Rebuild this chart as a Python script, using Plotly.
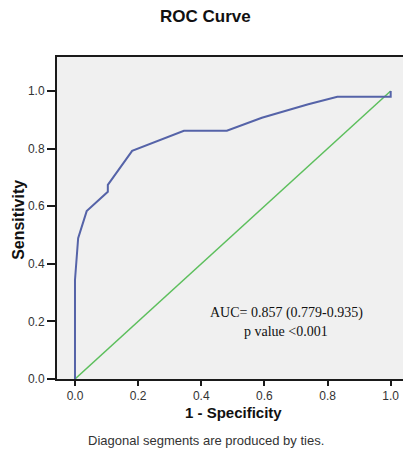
import plotly.graph_objects as go

# ROC curve points (1 - specificity, sensitivity)
fpr = [0.0, 0.0, 0.010, 0.037, 0.104, 0.104, 0.181, 0.280, 0.345, 0.481, 0.592, 0.739, 0.831, 1.0, 1.0]
tpr = [0.0, 0.344, 0.489, 0.583, 0.650, 0.674, 0.792, 0.835, 0.862, 0.862, 0.907, 0.954, 0.980, 0.980, 1.0]

ref_x = [0.0, 1.0]
ref_y = [0.0, 1.0]

tick_vals = [0.0, 0.2, 0.4, 0.6, 0.8, 1.0]
tick_text = ["0.0", "0.2", "0.4", "0.6", "0.8", "1.0"]

auc_text = "AUC= 0.857 (0.779-0.935)"
p_text = "p value <0.001"

fig = go.Figure()
fig.add_trace(go.Scatter(x=ref_x, y=ref_y, mode="lines",
                         line=dict(color="#5cbf5c", width=1.5), showlegend=False))
fig.add_trace(go.Scatter(x=fpr, y=tpr, mode="lines",
                         line=dict(color="#5563a8", width=2), showlegend=False))

sans = "Liberation Sans, Arial, sans-serif"
fig.update_layout(
    width=403, height=454,
    margin=dict(l=57, r=0, t=57, b=75),
    paper_bgcolor="white",
    plot_bgcolor="#f0f0f0",
    showlegend=False,
    font=dict(family=sans, color="#222"),
    xaxis=dict(range=[-0.057, 1.039], tickvals=tick_vals, ticktext=tick_text,
               showgrid=False, zeroline=False, showline=True, linecolor="#1a1a1a",
               linewidth=2, mirror=True, ticks="outside", ticklen=5, tickwidth=1.5,
               tickcolor="#1a1a1a", tickfont=dict(size=12, color="#333", family=sans)),
    yaxis=dict(range=[0, 1.118], tickvals=tick_vals, ticktext=tick_text,
               showgrid=False, zeroline=False, showline=True, linecolor="#1a1a1a",
               linewidth=2, mirror=False, ticks="outside", ticklen=8, tickwidth=1.5,
               tickcolor="#1a1a1a", tickfont=dict(size=12, color="#333", family=sans)),
)

anns = [
    dict(text="<b>ROC Curve</b>", xref="paper", yref="paper", x=0.43, y=1.127,
         xanchor="center", yanchor="middle", showarrow=False,
         font=dict(size=17, color="#111", family=sans)),
    dict(text="<b>1 - Specificity</b>", xref="paper", yref="paper", x=0.509, y=-0.1025,
         xanchor="center", yanchor="middle", showarrow=False,
         font=dict(size=15, color="#111", family=sans)),
    dict(text="<b>Sensitivity</b>", xref="paper", yref="paper", x=-0.11, y=0.494,
         xanchor="center", yanchor="middle", showarrow=False, textangle=-90,
         font=dict(size=16, color="#111", family=sans)),
    dict(text="Diagonal segments are produced by ties.", xref="paper", yref="paper",
         x=0.43, y=-0.1925, xanchor="center", yanchor="middle", showarrow=False,
         font=dict(size=13, color="#333", family=sans)),
    dict(text=auc_text, xref="x", yref="y", x=0.669, y=0.229,
         xanchor="center", yanchor="middle", showarrow=False,
         font=dict(size=14, color="#111", family="Liberation Serif, Times New Roman, serif")),
    dict(text=p_text, xref="x", yref="y", x=0.669, y=0.165,
         xanchor="center", yanchor="middle", showarrow=False,
         font=dict(size=14, color="#111", family="Liberation Serif, Times New Roman, serif")),
]
fig.update_layout(annotations=anns)

fig.write_html("out.html", config={"displayModeBar": False},
               post_script="document.body.style.margin='0';document.body.style.overflow='hidden';")
